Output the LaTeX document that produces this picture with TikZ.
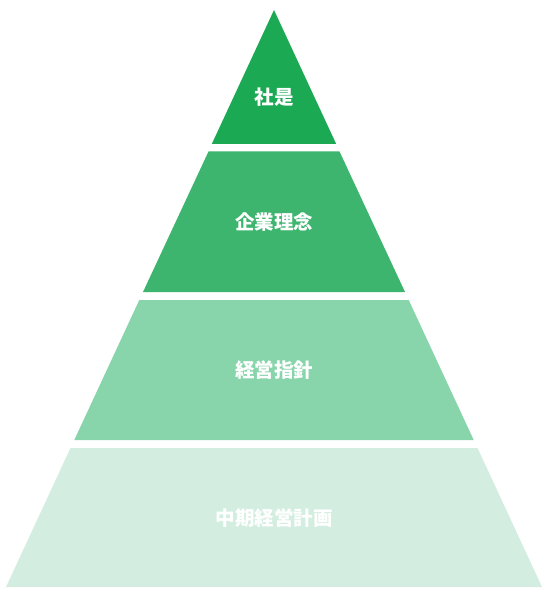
\documentclass[tikz,border=0pt]{standalone}
\usepackage{fontspec}
\newfontfamily\cjk{Noto Sans CJK JP}
\definecolor{lay1}{HTML}{1CA954}
\definecolor{lay2}{HTML}{3DB56E}
\definecolor{lay3}{HTML}{88D4AB}
\definecolor{lay4}{HTML}{D3EEE0}
\tikzset{
  layer/.style={draw=none},
  lbl/.style={text=white, font=\cjk\bfseries\fontsize{19.5}{22}\selectfont, inner sep=0pt}
}
\begin{document}
\begin{tikzpicture}[x=1pt,y=-1pt]
\useasboundingbox (0,0) rectangle (548,593);
\fill[white] (0,0) rectangle (548,593);
\fill[lay1,layer] (274,10) -- (336.2,144) -- (211.8,144) -- cycle;
\fill[lay2,layer] (208.5,151.5) -- (339.5,151.5) -- (405,292) -- (143,292) -- cycle;
\fill[lay3,layer] (139.3,300) -- (408.7,300) -- (473.7,440) -- (74.3,440) -- cycle;
\fill[lay4,layer] (70.5,448) -- (477.5,448) -- (542,587) -- (6,587) -- cycle;
\node[lbl] (t1) at (274,97) {社是};
\node[lbl] (t2) at (274,222) {企業理念};
\node[lbl] (t3) at (274,370) {経営指針};
\node[lbl] (t4) at (274,518) {中期経営計画};
\end{tikzpicture}
\end{document}
